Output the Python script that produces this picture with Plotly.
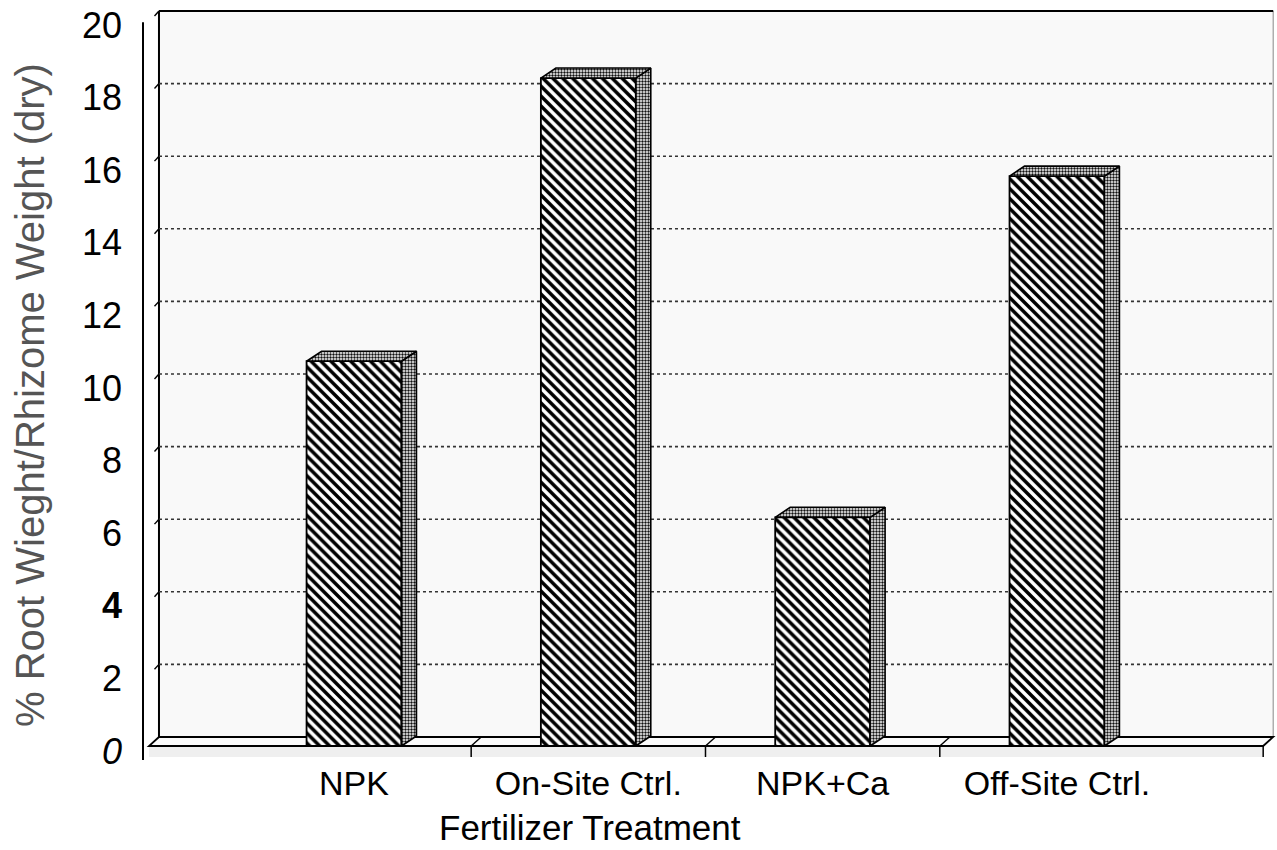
import plotly.graph_objects as go

# ---- data -------------------------------------------------------------
categories = ["NPK", "On-Site Ctrl.", "NPK+Ca", "Off-Site Ctrl."]
root_ratio = [10.6, 18.4, 6.3, 15.7]          # % root weight / rhizome weight (dry)
y_tickvals = [0, 2, 4, 6, 8, 10, 12, 14, 16, 18, 20]
y_ticktext = ["<i>0</i>", "2", "<b>4</b>", "6", "8", "10", "12", "14", "16", "18", "20"]
divider_pos = [0.5, 1.5, 2.5]

# ---- geometry ---------------------------------------------------------
W, H = 1277, 850
ML, MR, MT, MB = 143, 0, 5, 90
X_RANGE = [-0.9005, 3.939]
Y_RANGE = [-0.386, 20.413]
PX_X = (W - ML - MR) / (X_RANGE[1] - X_RANGE[0])
PX_Y = (H - MT - MB) / (Y_RANGE[1] - Y_RANGE[0])


def ux(p):
    return p / PX_X


def uy(p):
    return p / PX_Y


WALL_DX, WALL_DY = ux(10), uy(9)      # depth of floor / back wall
BAR_DX, BAR_DY = ux(15), uy(10)       # depth of the columns
BAR_W = 0.405
FLOOR_L, FLOOR_R = -0.875, 3.88
SLAB = uy(11)
Y_TOP = 20
FONT = "Liberation Sans, Arial, sans-serif"

shapes = []


def seg(x0, y0, x1, y1, width=1.5, color="black", dash=None):
    line = dict(color=color, width=width)
    if dash:
        line["dash"] = dash
    shapes.append(dict(type="line", xref="x", yref="y", x0=x0, y0=y0,
                       x1=x1, y1=y1, line=line, layer="below"))


def poly(pts, fill, width=1.5, line_color="black"):
    path = "M " + " L ".join(f"{x},{y}" for x, y in pts) + " Z"
    shapes.append(dict(type="path", xref="x", yref="y", path=path,
                       fillcolor=fill, line=dict(color=line_color, width=width),
                       layer="below"))


bx0, bx1 = FLOOR_L + WALL_DX, FLOOR_R + WALL_DX

# back wall
poly([(bx0, WALL_DY), (bx1, WALL_DY), (bx1, Y_TOP + WALL_DY), (bx0, Y_TOP + WALL_DY)],
     "#f9f9f9", width=1.0, line_color="#888")
seg(bx0, Y_TOP + WALL_DY, bx1, Y_TOP + WALL_DY, width=2.2)
seg(bx0, WALL_DY, bx0, Y_TOP + WALL_DY, width=2)

# dotted gridlines on the back wall plus their short returns on the side wall
for v in y_tickvals[1:-1]:
    seg(bx0, v + WALL_DY, bx1, v + WALL_DY, width=1.6, color="#333", dash="dot")
    seg(bx0, v + WALL_DY, bx0 - WALL_DX * 0.45, v + WALL_DY * 0.45, width=1.4)
seg(bx0, Y_TOP + WALL_DY, bx0 - WALL_DX * 0.45, Y_TOP + WALL_DY * 0.45, width=1.4)

# floor slab: front strip and top surface
poly([(FLOOR_L, -SLAB), (FLOOR_R, -SLAB), (FLOOR_R, 0), (FLOOR_L, 0)],
     "#efefef", width=0, line_color="rgba(0,0,0,0)")
poly([(FLOOR_L, 0), (FLOOR_R, 0), (bx1, WALL_DY), (bx0, WALL_DY)],
     "#fbfbfb", width=1.8)
seg(FLOOR_R, 0, FLOOR_R, -SLAB, width=1.5)
for d in divider_pos:
    seg(d, 0, d + WALL_DX, WALL_DY, width=1.4)
    seg(d, 0, d, -SLAB, width=1.5)

# front value axis line
shapes.append(dict(type="line", xref="paper", yref="y", x0=0, x1=0,
                   y0=Y_RANGE[0], y1=19.94, line=dict(color="black", width=2)))

fig = go.Figure()

# front faces of the columns
fig.add_trace(go.Bar(
    x=list(range(len(categories))), y=root_ratio, width=BAR_W,
    marker=dict(color="white", line=dict(color="black", width=1.8),
                pattern=dict(shape="\\", fgcolor="black", bgcolor="white",
                             size=7, solidity=0.5)),
    showlegend=False, hoverinfo="skip"))

# top and side faces of the columns
dots = dict(shape=".", fgcolor="#111", bgcolor="white", size=3, solidity=0.5)
for i, v in enumerate(root_ratio):
    x0, x1 = i - BAR_W / 2, i + BAR_W / 2
    top_x = [x0, x1, x1 + BAR_DX, x0 + BAR_DX, x0]
    top_y = [v, v, v + BAR_DY, v + BAR_DY, v]
    side_x = [x1, x1 + BAR_DX, x1 + BAR_DX, x1, x1]
    side_y = [0, BAR_DY, v + BAR_DY, v, 0]
    for xs, ys in ((side_x, side_y), (top_x, top_y)):
        fig.add_trace(go.Scatter(
            x=xs, y=ys, mode="lines", fill="toself", fillcolor="white",
            fillpattern=dots, line=dict(color="black", width=1.6),
            showlegend=False, hoverinfo="skip"))

fig.update_layout(
    width=W, height=H, template="none",
    margin=dict(l=ML, r=MR, t=MT, b=MB, pad=0),
    paper_bgcolor="white", plot_bgcolor="white",
    font=dict(family=FONT, color="black"),
    shapes=shapes,
    showlegend=False,
    xaxis=dict(range=X_RANGE, tickvals=list(range(len(categories))),
               ticktext=categories, showgrid=False, zeroline=False,
               showline=False, ticks="", tickfont=dict(size=34),
               ticklabelstandoff=0, ticklabeloverflow="allow", fixedrange=True),
    yaxis=dict(range=Y_RANGE, tickvals=y_tickvals, ticktext=y_ticktext,
               showgrid=False, zeroline=False, showline=False, ticks="",
               tickfont=dict(size=36), ticklabelstandoff=20,
               ticklabelshift=5, ticklabeloverflow="allow", fixedrange=True),
    annotations=[
        dict(text="% Root Wieght/Rhizome Weight (dry)", xref="paper", yref="paper",
             x=(30 - ML) / (W - ML - MR), y=(H - MB - 395) / (H - MT - MB),
             xanchor="center", yanchor="middle", textangle=-90, showarrow=False,
             font=dict(size=40, color="#555", family=FONT)),
        dict(text="Fertilizer Treatment", xref="paper", yref="paper",
             x=(590 - ML) / (W - ML - MR), y=(H - MB - 827) / (H - MT - MB),
             xanchor="center", yanchor="middle", showarrow=False,
             font=dict(size=35, color="black", family=FONT)),
    ],
)

fig.write_html("out.html")
